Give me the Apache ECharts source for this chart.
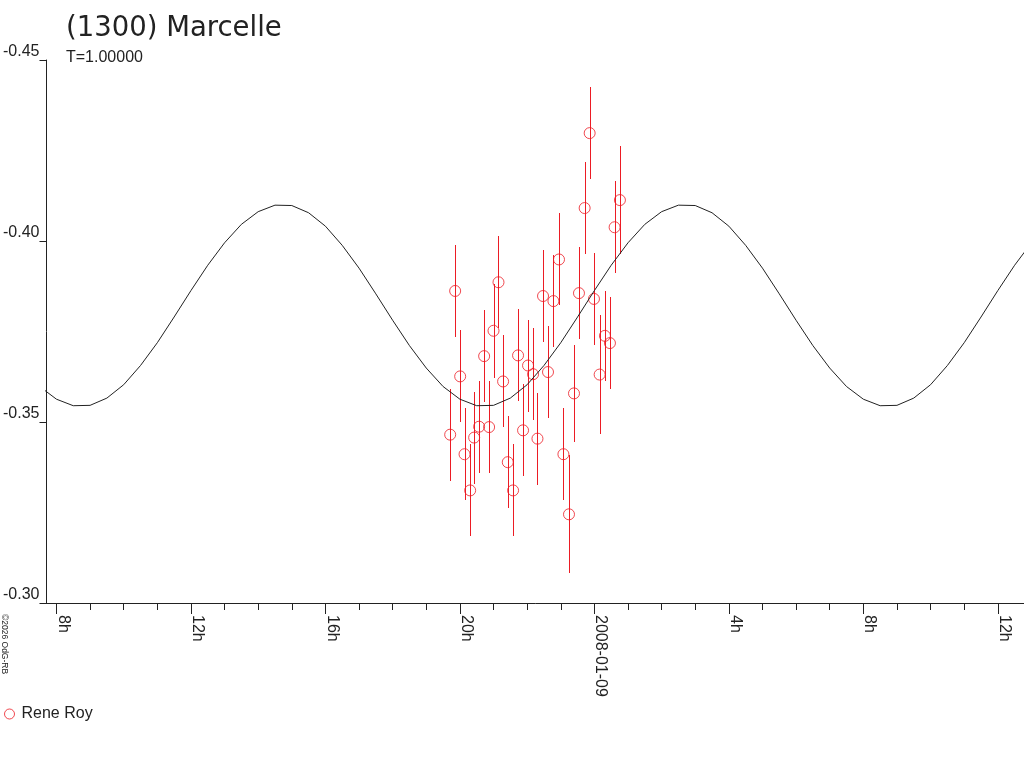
<!DOCTYPE html>
<html>
<head>
<meta charset="utf-8">
<title>(1300) Marcelle</title>
<script src="https://cdn.jsdelivr.net/npm/echarts@6/dist/echarts.min.js"></script>
<style>
  html, body { margin: 0; padding: 0; background: #fff; }
  #chart { width: 1024px; height: 768px; }
</style>
</head>
<body>
<div id="chart"></div>
<script>
'use strict';

// observations, hours counted from 2008-01-08 00:00 UT
const obsHours = [
    19.711, 19.859, 20.008, 20.138, 20.305, 20.424, 20.572, 20.721, 20.869, 21.000,
    21.148, 21.285, 21.424, 21.582, 21.730, 21.879, 22.027, 22.176, 22.307, 22.473,
    22.621, 22.782, 22.948, 23.079, 23.245, 23.394, 23.542, 23.711, 23.860, 23.988,
    24.157, 24.314, 24.463, 24.602, 24.760
];
const obsMag = [
    -0.3465, -0.3862, -0.3626, -0.3411, -0.3311, -0.3457, -0.3487, -0.3682, -0.3486, -0.3752,
    -0.3886, -0.3612, -0.3389, -0.3311, -0.3684, -0.3477, -0.3656, -0.3632, -0.3454, -0.3848,
    -0.3638, -0.3834, -0.3949, -0.3411, -0.3245, -0.3579, -0.3856, -0.4091, -0.4298, -0.3840,
    -0.3631, -0.3738, -0.3718, -0.4038, -0.4113
];
const obsErr = [
    0.0127, 0.0127, 0.0127, 0.0127, 0.0127, 0.0127, 0.0127, 0.0127, 0.0127, 0.0130,
    0.0127, 0.0127, 0.0127, 0.0127, 0.0127, 0.0127, 0.0127, 0.0127, 0.0127, 0.0127,
    0.0127, 0.0127, 0.0127, 0.0127, 0.0163, 0.0133, 0.0127, 0.0127, 0.0127, 0.0127,
    0.0165, 0.0125, 0.0127, 0.0127, 0.0150
];

// fitted curve, read every half hour
const curveHours = [
    7.5, 8, 8.5, 9, 9.5, 10, 10.5, 11, 11.5, 12, 12.5, 13, 13.5, 14, 14.5, 15,
    15.5, 16, 16.5, 17, 17.5, 18, 18.5, 19, 19.5, 20, 20.5, 21, 21.5, 22, 22.5, 23,
    23.5, 24, 24.5, 25, 25.5, 26, 26.5, 27, 27.5, 28, 28.5, 29, 29.5, 30, 30.5, 31,
    31.5, 32, 32.5, 33, 33.5, 34, 34.5, 35, 35.5, 36, 36.5, 37
];
const curveMag = [
    -0.3598, -0.3563, -0.3545, -0.3546, -0.3566, -0.3603, -0.3656, -0.3719,
    -0.3790, -0.3863, -0.3933, -0.3995, -0.4046, -0.4081, -0.4099, -0.4098,
    -0.4078, -0.4041, -0.3988, -0.3925, -0.3854, -0.3781, -0.3711, -0.3649,
    -0.3598, -0.3563, -0.3545, -0.3546, -0.3566, -0.3603, -0.3656, -0.3719,
    -0.3790, -0.3863, -0.3933, -0.3995, -0.4046, -0.4081, -0.4099, -0.4098,
    -0.4078, -0.4041, -0.3988, -0.3925, -0.3854, -0.3781, -0.3711, -0.3649,
    -0.3598, -0.3563, -0.3545, -0.3546, -0.3566, -0.3603, -0.3656, -0.3719,
    -0.3790, -0.3863, -0.3933, -0.3995
];

const majorTicks = [8, 12, 16, 20, 24, 28, 32, 36];
const minorTicks = [8, 9, 10, 11, 12, 13, 14, 15, 16, 17, 18, 19, 20, 21, 22,
    23, 24, 25, 26, 27, 28, 29, 30, 31, 32, 33, 34, 35, 36];
const dateLabel = '2008-01-09';

const title = '(1300) Marcelle';
const subTitle = 'T=1.00000';
const observer = 'Rene Roy';
const credit = '\u00a92026 OdG-RB';

const RED = '#ec1c24';
const INK = '#222';
const FONT = 'Liberation Sans';

const xMin = 7.703, xMax = 36.779;

const points = obsHours.map((h, i) => [h, obsMag[i]]);
const bars = obsHours.map((h, i) => [h, obsMag[i] - obsErr[i], obsMag[i] + obsErr[i]]);
const curve = curveHours.map((h, i) => [h, curveMag[i]]);

const chart = echarts.init(document.getElementById('chart'));

chart.setOption({
    animation: false,
    backgroundColor: '#fff',
    grid: {left: 45, right: 0, top: 60, bottom: 165},
    legend: {
        left: 4,
        top: 706,
        padding: 0,
        itemWidth: 10,
        itemHeight: 10,
        itemGap: 10,
        icon: 'circle',
        data: [observer],
        itemStyle: {color: 'rgba(0,0,0,0)', borderColor: RED, borderWidth: 1},
        textStyle: {fontFamily: FONT, fontSize: 16, color: INK, padding: [0, 0, 0, 2]}
    },
    xAxis: [{
        type: 'value',
        min: xMin,
        max: xMax,
        position: 'bottom',
        splitLine: {show: false},
        axisLine: {lineStyle: {color: INK, width: 1}},
        axisTick: {customValues: majorTicks, length: 11, lineStyle: {color: INK}},
        axisLabel: {
            customValues: majorTicks,
            rotate: -90,
            margin: 12,
            verticalAlign: 'bottom',
            lineHeight: 13,
            fontFamily: FONT,
            fontSize: 16,
            color: INK,
            formatter: v => v === 24 ? dateLabel : (v % 24) + 'h'
        }
    }, {
        // minor hour ticks
        type: 'value',
        min: xMin,
        max: xMax,
        position: 'bottom',
        splitLine: {show: false},
        axisLine: {show: false},
        axisTick: {customValues: minorTicks, length: 7, lineStyle: {color: INK}},
        axisLabel: {show: false}
    }],
    yAxis: {
        type: 'value',
        inverse: true,
        min: -0.45,
        max: -0.30,
        interval: 0.05,
        splitLine: {show: false},
        axisLine: {show: true, lineStyle: {color: INK, width: 1}},
        axisTick: {show: true, length: 7, lineStyle: {color: INK}},
        axisLabel: {
            margin: 7,
            verticalAlign: 'bottom',
            fontFamily: FONT,
            fontSize: 16,
            color: INK,
            formatter: v => v.toFixed(2)
        }
    },
    graphic: [
        {type: 'text', left: 66, top: 15,
         style: {text: title, font: '27.5px "DejaVu Sans"', fill: INK}},
        {type: 'text', left: 66, top: 50,
         style: {text: subTitle, font: '16px "Liberation Sans"', fill: INK}},
        {type: 'text', x: 4, y: 614, rotation: -Math.PI / 2,
         style: {text: credit, font: '8.5px "Liberation Sans"', fill: INK,
                 align: 'left', verticalAlign: 'middle'}}
    ],
    series: [{
        name: 'fit',
        type: 'line',
        data: curve,
        smooth: false,
        showSymbol: false,
        lineStyle: {color: INK, width: 1},
        silent: true
    }, {
        name: 'errors',
        type: 'custom',
        data: bars,
        renderItem: (params, api) => {
            const a = api.coord([api.value(0), api.value(1)]);
            const b = api.coord([api.value(0), api.value(2)]);
            const x = Math.round(a[0]) + 0.5;
            return {
                type: 'line',
                shape: {x1: x, y1: Math.round(a[1]), x2: x, y2: Math.round(b[1])},
                style: {stroke: RED, lineWidth: 1}
            };
        }
    }, {
        name: observer,
        type: 'scatter',
        data: points,
        symbol: 'circle',
        symbolSize: 11,
        itemStyle: {color: 'rgba(0,0,0,0)', borderColor: RED, borderWidth: 1}
    }]
});
</script>
</body>
</html>
